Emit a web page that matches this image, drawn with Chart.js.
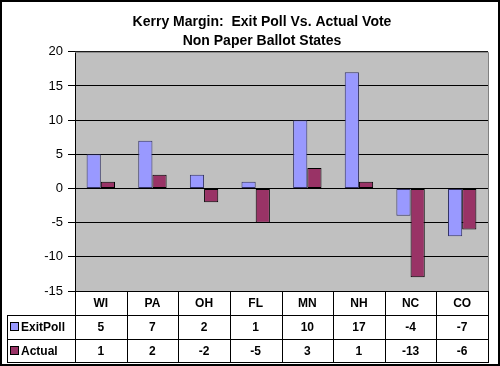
<!DOCTYPE html>
<html>
<head>
<meta charset="utf-8">
<script src="https://cdn.jsdelivr.net/npm/chart.js@4.4.1/dist/chart.umd.min.js"></script>
<style>
  body { margin: 0; background: #fff; }
  #wrap { width: 500px; height: 366px; }
</style>
</head>
<body>
<div id="wrap"><canvas id="marginChart" width="500" height="366"></canvas></div>
<script>
const states = ['WI', 'PA', 'OH', 'FL', 'MN', 'NH', 'NC', 'CO'];
const exitPoll = [5, 7, 2, 1, 10, 17, -4, -7];
const actual = [1, 2, -2, -5, 3, 1, -13, -6];
const yTicks = [-15, -10, -5, 0, 5, 10, 15, 20];

const FONT = 'Arial, "Liberation Sans", sans-serif';

// grey plot area + black frame round the whole picture
const framePlugin = {
    id: 'frame',
    beforeDraw(chart) {
        const ctx = chart.ctx;
        const a = chart.chartArea;
        ctx.save();
        ctx.fillStyle = '#fff';
        ctx.fillRect(0, 0, chart.width, chart.height);
        ctx.fillStyle = '#c0c0c0';
        ctx.fillRect(a.left, a.top, a.right - a.left, a.bottom - a.top);
        ctx.restore();
    },
    afterDraw(chart) {
        const ctx = chart.ctx;
        const a = chart.chartArea;
        ctx.save();
        ctx.strokeStyle = '#808080';
        ctx.lineWidth = 1;
        ctx.beginPath();
        ctx.moveTo(a.left, a.top + 0.5);
        ctx.lineTo(a.right + 0.5, a.top + 0.5);
        ctx.lineTo(a.right + 0.5, a.bottom);
        ctx.stroke();
        ctx.strokeStyle = '#000';
        ctx.lineWidth = 2;
        ctx.strokeRect(1, 1, chart.width - 2, chart.height - 2);
        ctx.restore();
    }
};

// data table under the plot, as Excel draws it
const tablePlugin = {
    id: 'dataTable',
    afterDraw(chart) {
        const ctx = chart.ctx;
        const x = chart.scales.x;
        const a = chart.chartArea;
        const rowH = 24;
        const top = a.bottom;
        const tableLeft = 7;
        const right = a.right + 0.5;
        const colW = (a.right - a.left) / states.length;

        ctx.save();
        ctx.strokeStyle = '#000';
        ctx.lineWidth = 1;
        ctx.beginPath();
        // horizontal lines
        ctx.moveTo(tableLeft, top + rowH + 0.5);
        ctx.lineTo(right, top + rowH + 0.5);
        ctx.moveTo(tableLeft, top + rowH * 2 + 0.5);
        ctx.lineTo(right, top + rowH * 2 + 0.5);
        ctx.moveTo(tableLeft, top + rowH * 3 - 0.5);
        ctx.lineTo(right, top + rowH * 3 - 0.5);
        // vertical lines
        ctx.moveTo(tableLeft + 0.5, top + rowH);
        ctx.lineTo(tableLeft + 0.5, top + rowH * 3);
        for (let i = 0; i <= states.length; i++) {
            const px = Math.round(a.left + colW * i) + 0.5;
            ctx.moveTo(px, top);
            ctx.lineTo(px, top + rowH * 3);
        }
        ctx.stroke();

        ctx.fillStyle = '#000';
        ctx.font = 'bold 12px ' + FONT;
        ctx.textAlign = 'center';
        ctx.textBaseline = 'middle';
        states.forEach((s, i) => {
            const cx = x.getPixelForValue(i);
            ctx.fillText(s, cx, top + rowH / 2 + 1);
            ctx.fillText(String(exitPoll[i]), cx, top + rowH * 1.5 + 1);
            ctx.fillText(String(actual[i]), cx, top + rowH * 2.5 + 1);
        });

        // legend keys
        chart.data.datasets.forEach((ds, k) => {
            const cy = top + rowH * (1.5 + k);
            ctx.fillStyle = ds.backgroundColor;
            ctx.fillRect(10.5, cy - 4.5, 8, 8);
            ctx.strokeStyle = '#000';
            ctx.strokeRect(10.5, cy - 4.5, 8, 8);
            ctx.fillStyle = '#000';
            ctx.textAlign = 'left';
            ctx.fillText(ds.label, 21, cy + 1);
        });
        ctx.restore();
    }
};

new Chart(document.getElementById('marginChart'), {
    type: 'bar',
    data: {
        labels: states,
        datasets: [{
            label: 'ExitPoll',
            data: exitPoll,
            backgroundColor: '#9999ff',
            borderColor: '#333366',
            borderWidth: 1,
            borderSkipped: false,
            categoryPercentage: 0.55,
            barPercentage: 1.0
        }, {
            label: 'Actual',
            data: actual,
            backgroundColor: '#993366',
            borderColor: '#000',
            borderWidth: 1,
            borderSkipped: false,
            categoryPercentage: 0.55,
            barPercentage: 1.0
        }]
    },
    options: {
        responsive: false,
        animation: false,
        layout: { padding: { top: 2, left: 36, right: 12, bottom: 3 } },
        plugins: {
            legend: { display: false },
            tooltip: { enabled: false },
            title: {
                display: true,
                text: ['Kerry Margin:  Exit Poll Vs. Actual Vote', 'Non Paper Ballot States'],
                color: '#000',
                font: { family: FONT, size: 14, weight: 'bold', lineHeight: 1.35 },
                padding: { top: 11, bottom: 1 }
            }
        },
        scales: {
            x: {
                ticks: { display: false },
                grid: { display: false },
                border: { display: false },
                afterFit(scale) { scale.height = 72; }
            },
            y: {
                min: -15,
                max: 20,
                afterBuildTicks(scale) { scale.ticks = yTicks.map(v => ({ value: v })); },
                afterFit(scale) { scale.width = 39; },
                ticks: {
                    color: '#000',
                    font: { family: FONT, size: 13 },
                    padding: 5
                },
                grid: {
                    color: '#000',
                    lineWidth: 1,
                    tickLength: 7,
                    drawTicks: true
                },
                border: { color: '#000', width: 1 }
            }
        }
    },
    plugins: [framePlugin, tablePlugin]
});
</script>
</body>
</html>
